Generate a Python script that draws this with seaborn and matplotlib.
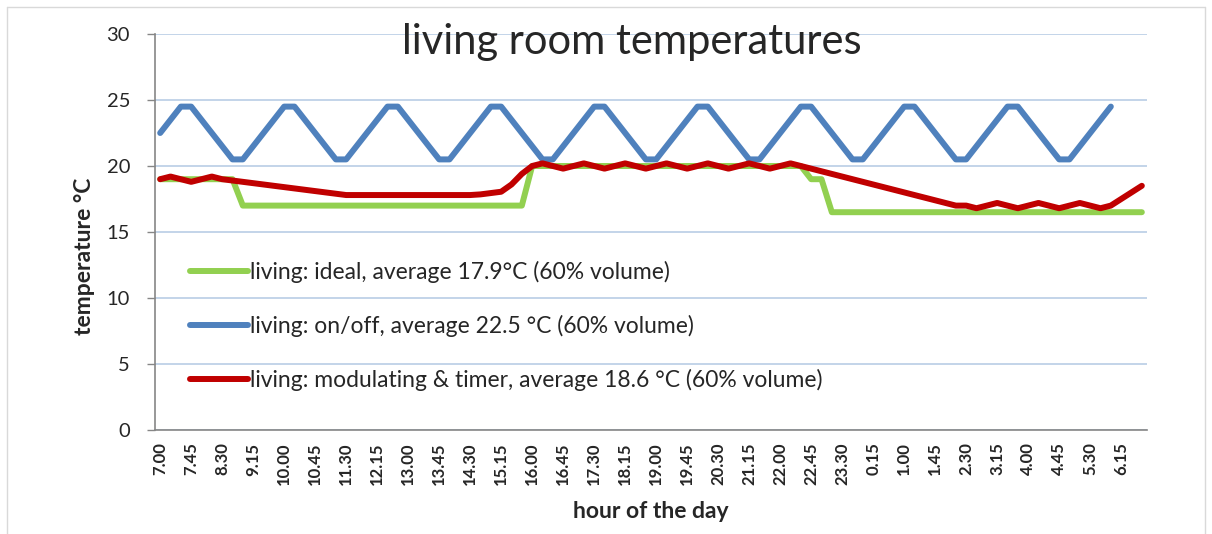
import matplotlib
matplotlib.use('Agg')
import matplotlib.pyplot as plt
import seaborn as sns
import pandas as pd
from matplotlib.lines import Line2D
from matplotlib.ticker import MultipleLocator

sns.set_style('white')
plt.rcParams['font.family'] = ['Lato', 'DejaVu Sans']

#%% data (one value every 15 minutes, 7.00 -> 6.45 next morning)

slots = [f"{(7 + q // 4) % 24}.{(q % 4) * 15:02d}" for q in range(96)]

ideal = [19, 19, 19, 19, 19, 19, 19, 19,
         17, 17, 17, 17, 17, 17, 17, 17, 17, 17, 17, 17, 17, 17,
         17, 17, 17, 17, 17, 17, 17, 17, 17, 17, 17, 17, 17, 17,
         20, 20, 20, 20, 20, 20, 20, 20, 20, 20, 20, 20, 20, 20,
         20, 20, 20, 20, 20, 20, 20, 20, 20, 20, 20, 20, 20,
         19, 19,
         16.5, 16.5, 16.5, 16.5, 16.5, 16.5, 16.5, 16.5, 16.5, 16.5, 16.5,
         16.5, 16.5, 16.5, 16.5, 16.5, 16.5, 16.5, 16.5, 16.5, 16.5, 16.5,
         16.5, 16.5, 16.5, 16.5, 16.5, 16.5, 16.5, 16.5, 16.5]

onoff = [22.5, 23.5, 24.5, 24.5, 23.5, 22.5, 21.5, 20.5, 20.5, 21.5,
         22.5, 23.5, 24.5, 24.5, 23.5, 22.5, 21.5, 20.5, 20.5, 21.5,
         22.5, 23.5, 24.5, 24.5, 23.5, 22.5, 21.5, 20.5, 20.5, 21.5,
         22.5, 23.5, 24.5, 24.5, 23.5, 22.5, 21.5, 20.5, 20.5, 21.5,
         22.5, 23.5, 24.5, 24.5, 23.5, 22.5, 21.5, 20.5, 20.5, 21.5,
         22.5, 23.5, 24.5, 24.5, 23.5, 22.5, 21.5, 20.5, 20.5, 21.5,
         22.5, 23.5, 24.5, 24.5, 23.5, 22.5, 21.5, 20.5, 20.5, 21.5,
         22.5, 23.5, 24.5, 24.5, 23.5, 22.5, 21.5, 20.5, 20.5, 21.5,
         22.5, 23.5, 24.5, 24.5, 23.5, 22.5, 21.5, 20.5, 20.5, 21.5,
         22.5, 23.5, 24.5]

modulating = [19.0, 19.2, 19.0, 18.8, 19.0, 19.2, 19.0, 18.9,
              18.8, 18.7, 18.6, 18.5, 18.4, 18.3, 18.2, 18.1, 18.0, 17.9, 17.8,
              17.8, 17.8, 17.8, 17.8, 17.8, 17.8, 17.8, 17.8, 17.8, 17.8, 17.8, 17.8,
              17.85, 17.95, 18.05, 18.6, 19.4, 20.0,
              20.2, 20.0, 19.8, 20.0, 20.2, 20.0, 19.8, 20.0, 20.2, 20.0, 19.8, 20.0,
              20.2, 20.0, 19.8, 20.0, 20.2, 20.0, 19.8, 20.0, 20.2, 20.0, 19.8, 20.0,
              20.2,
              20.0, 19.8, 19.6, 19.4, 19.2, 19.0, 18.8, 18.6, 18.4, 18.2, 18.0,
              17.8, 17.6, 17.4, 17.2, 17.0,
              17.0, 16.8, 17.0, 17.2, 17.0, 16.8, 17.0, 17.2, 17.0, 16.8, 17.0,
              17.2, 17.0, 16.8, 17.0, 17.5, 18.0, 18.5]

names = ['living: ideal, average 17.9°C (60% volume)',
         'living: on/off, average 22.5 °C (60% volume)',
         'living: modulating & timer, average 18.6 °C (60% volume)']
colors = ['#92D050', '#4F81BD', '#C00000']

df = pd.concat([pd.DataFrame({'slot': range(len(v)), 'temp': v, 'series': n})
                for n, v in zip(names, [ideal, onoff, modulating])])

#%% plot

fig = plt.figure(figsize=(12.12, 5.34), dpi=100)
ax = fig.add_axes([155 / 1212, 1 - 430 / 534, 992 / 1212, 396 / 534])

ax.set_axisbelow(True)
ax.yaxis.grid(True, color='#B9CDE5', lw=1.2)

sns.lineplot(data=df, x='slot', y='temp', hue='series', hue_order=names,
             palette=colors, linewidth=4.3, sort=False, estimator=None, ax=ax)
for ln in ax.lines:
    ln.set_solid_capstyle('round')
    ln.set_solid_joinstyle('round')

handles, labels = ax.get_legend_handles_labels()
for h in handles:
    h.set_linewidth(4.3)
    h.set_solid_capstyle('round')
ax.legend(handles, labels, loc='upper left', bbox_to_anchor=(0.035, 0.428),
          frameon=False, fontsize=16.5, handlelength=2.53, handletextpad=0.08,
          labelspacing=1.4, borderpad=0, borderaxespad=0)

ax.set_xlim(-0.5, 95.5)
ax.set_ylim(0, 30)
ax.set_xticks(range(0, 96, 3))
ax.set_xticklabels(slots[::3], rotation=90, fontweight='bold', fontsize=12)
ax.xaxis.set_minor_locator(MultipleLocator(1, offset=0.5))
ax.tick_params(axis='x', which='major', length=0, pad=9)
ax.tick_params(axis='x', which='minor', length=5, color='#868686', width=1)
ax.yaxis.set_major_locator(MultipleLocator(5))
ax.tick_params(axis='y', length=6, color='#868686', width=1, labelsize=14.5, pad=12, left=True)
ax.set_xlabel('')
ax.set_ylabel('')

for side in ['top', 'right']:
    ax.spines[side].set_visible(False)
for side in ['left', 'bottom']:
    ax.spines[side].set_color('#868686')
    ax.spines[side].set_linewidth(1.2)

fig.text(632 / 1212, 1 - 42 / 534, 'living room temperatures', fontsize=30,
         ha='center', va='center')
fig.text(84 / 1212, 1 - 256 / 534, 'temperature °C', fontsize=16.5, fontweight='bold',
         rotation=90, ha='center', va='center')
fig.text(651 / 1212, 1 - 511 / 534, 'hour of the day', fontsize=16.5, fontweight='bold',
         ha='center', va='center')

# chart frame
x0, x1, y0 = 7 / 1212, 1205 / 1212, 1 - 7 / 534
for xs, ys in [([x0, x1], [y0, y0]), ([x0, x0], [y0, 0]), ([x1, x1], [y0, 0])]:
    fig.add_artist(Line2D(xs, ys, color='#D9D9D9', lw=1))

fig.savefig('out.png', dpi=100)
